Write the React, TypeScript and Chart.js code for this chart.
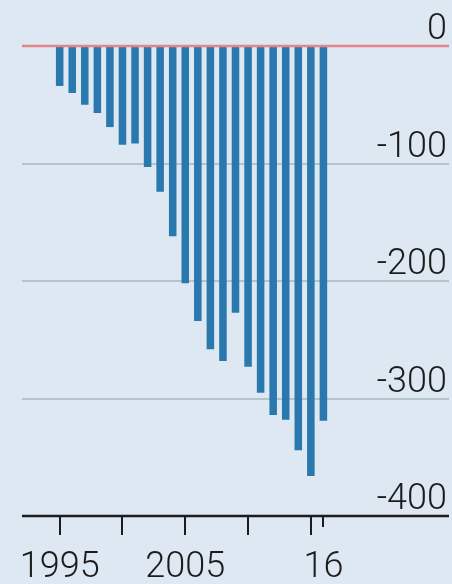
import React, { useEffect, useRef } from "react";
import { Chart, registerables } from "chart.js";

Chart.register(...registerables);

const years = [1995, 1996, 1997, 1998, 1999, 2000, 2001, 2002, 2003, 2004, 2005, 2006, 2007, 2008, 2009, 2010, 2011, 2012, 2013, 2014, 2015, 2016];
const values = [-34, -40, -50, -57, -69, -84, -83, -103, -124, -162, -202, -234, -258, -268, -227, -273, -295, -314, -318, -344, -366, -319];
const yTicks = [0, -100, -200, -300, -400];
const yTickLabels = ["0", "-100", "-200", "-300", "-400"];
const xLongTicks = [1995, 2000, 2005, 2010, 2015];
const xShortTicks = [2016];
const xLabelYears = [1995, 2005, 2016];
const xLabels = ["1995", "2005", "16"];

const BG = "#dde8f2";
const BAR = "#2a79ae";
const ZERO = "#e5858a";
const GRID = "#b6c3cb";
const INK = "#1c1c1c";
const FONT = "300 36px Roboto, 'Liberation Sans', sans-serif";

const decor = {
  id: "decor",
  beforeDatasetsDraw(chart: any) {
    const { ctx, chartArea, scales } = chart;
    const y = scales.y;
    ctx.save();
    ctx.strokeStyle = GRID;
    ctx.lineWidth = 2;
    yTicks.forEach((v) => {
      if (v === 0 || v === -400) return;
      const py = Math.round(y.getPixelForValue(v));
      ctx.beginPath();
      ctx.moveTo(chartArea.left, py);
      ctx.lineTo(chartArea.right, py);
      ctx.stroke();
    });
    ctx.restore();
  },
  afterDatasetsDraw(chart: any) {
    const { ctx, chartArea, scales } = chart;
    const x = scales.x;
    const y = scales.y;
    ctx.save();
    const p0 = y.getPixelForValue(0);
    ctx.strokeStyle = ZERO;
    ctx.lineWidth = 2.5;
    ctx.beginPath();
    ctx.moveTo(chartArea.left, p0);
    ctx.lineTo(chartArea.right, p0);
    ctx.stroke();
    const pb = y.getPixelForValue(-400);
    ctx.strokeStyle = INK;
    ctx.lineWidth = 2.5;
    ctx.beginPath();
    ctx.moveTo(chartArea.left, pb);
    ctx.lineTo(chartArea.right, pb);
    ctx.stroke();
    ctx.lineWidth = 2;
    xLongTicks.forEach((yr) => {
      const px = Math.round(x.getPixelForValue(yr));
      ctx.beginPath();
      ctx.moveTo(px, pb);
      ctx.lineTo(px, pb + 19);
      ctx.stroke();
    });
    xShortTicks.forEach((yr) => {
      const px = Math.round(x.getPixelForValue(yr));
      ctx.beginPath();
      ctx.moveTo(px, pb);
      ctx.lineTo(px, pb + 11);
      ctx.stroke();
    });
    ctx.fillStyle = INK;
    ctx.font = FONT;
    ctx.textAlign = "center";
    ctx.textBaseline = "alphabetic";
    xLabelYears.forEach((yr, i) => {
      ctx.fillText(xLabels[i], x.getPixelForValue(yr), pb + 61);
    });
    ctx.textAlign = "right";
    yTicks.forEach((v, i) => {
      ctx.fillText(yTickLabels[i], 447, y.getPixelForValue(v) - 7);
    });
    ctx.restore();
  },
};

export default function App() {
  const ref = useRef<HTMLCanvasElement>(null);
  useEffect(() => {
    const canvas = ref.current!;
    const chart = new Chart(canvas, {
      type: "bar",
      data: {
        datasets: [
          {
            data: years.map((yr, i) => ({ x: yr, y: values[i] })),
            backgroundColor: BAR,
            borderWidth: 0,
            barPercentage: 0.6,
            categoryPercentage: 1,
          },
        ],
      },
      options: {
        animation: false,
        responsive: false,
        maintainAspectRatio: false,
        layout: { padding: { left: 22, right: 3, top: 46, bottom: 68 } },
        plugins: { legend: { display: false }, tooltip: { enabled: false } },
        scales: {
          x: { type: "linear", min: 1992, max: 2026, display: false, offset: false },
          y: { type: "linear", min: -400, max: 0, display: false },
        },
      },
      plugins: [decor],
    });
    return () => chart.destroy();
  }, []);
  return (
    <div style={{ position: "fixed", left: 0, top: 0, width: 452, height: 584, background: BG }}>
      <canvas ref={ref} width={452} height={584} style={{ display: "block", width: 452, height: 584 }} />
    </div>
  );
}
